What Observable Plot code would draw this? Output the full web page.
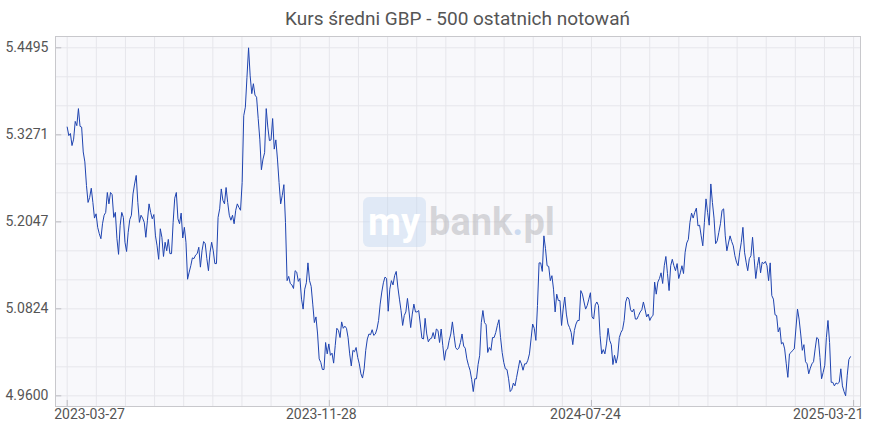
<!DOCTYPE html>
<html>
<head>
<meta charset="utf-8">
<script src="https://cdn.jsdelivr.net/npm/d3@7"></script>
<script src="https://cdn.jsdelivr.net/npm/@observablehq/plot@0.6"></script>
<style>
  html, body { margin: 0; padding: 0; background: #fff; }
  #wrap { position: relative; width: 870px; height: 430px; overflow: hidden; font-family: Roboto, sans-serif; }
  #title { position: absolute; left: 55px; width: 805px; top: 7px; text-align: center; font-size: 19px; color: #555; line-height: 24px; }
  #wm { position: absolute; left: 363px; top: 197px; height: 50px; display: flex; align-items: flex-start; pointer-events: none; font-family: Roboto, sans-serif; font-weight: 700; font-size: 38px; line-height: 50px; }
  #wm .box { background: rgba(196, 214, 240, 0.45); border-radius: 6px; color: #fff; padding: 0 6px 0 5px; height: 50px; }
  #wm .gray { color: rgba(170, 170, 175, 0.45); padding-left: 3px; }
  #wm .dot { color: rgba(160, 190, 230, 0.5); }
</style>
</head>
<body>
<div id="wrap">
  <div id="chart"></div>
  <div id="title">Kurs średni GBP - 500 ostatnich notowań</div>
  <div id="wm"><span class="box">my</span><span class="gray">bank<span class="dot">.</span>pl</span></div>
</div>
<script>
const values = [
5.338,5.326,5.329,5.312,5.321,5.346,5.340,5.364,5.339,5.338,
5.303,5.289,5.256,5.232,5.239,5.252,5.232,5.210,5.216,5.197,
5.188,5.181,5.202,5.214,5.218,5.246,5.230,5.246,5.243,5.211,
5.218,5.181,5.159,5.200,5.218,5.211,5.176,5.163,5.190,5.208,
5.214,5.244,5.258,5.270,5.232,5.204,5.214,5.210,5.204,5.183,
5.207,5.230,5.218,5.209,5.215,5.185,5.171,5.152,
5.195,5.183,5.156,5.176,5.164,5.180,5.160,5.160,5.204,5.238,
5.246,5.209,5.202,5.217,5.182,5.197,5.176,5.124,5.134,5.143,
5.154,5.153,5.158,5.160,5.169,5.141,5.164,5.177,5.174,5.153,
5.136,5.162,5.176,5.164,5.146,5.146,5.211,5.223,5.251,5.235,
5.230,5.253,5.232,5.214,5.207,5.214,5.202,5.221,5.230,5.225,
5.221,5.260,5.354,5.366,5.408,5.4495,5.410,5.385,5.399,5.383,
5.380,5.350,5.321,
5.278,5.293,5.302,5.364,5.338,5.319,5.320,5.350,5.307,5.320,
5.293,5.260,5.230,5.242,5.257,5.204,5.122,5.128,5.118,5.116,
5.111,5.136,5.134,5.121,5.125,5.096,5.082,5.110,5.119,5.147,
5.122,5.114,5.089,5.063,5.071,5.047,5.012,5.007,4.997,4.997,
5.035,5.019,5.033,5.017,5.020,5.006,5.031,5.055,5.052,5.042,
5.064,5.055,5.058,5.055,5.042,5.019,5.002,5.024,5.022,5.028,
5.014,5.005,
4.991,4.985,4.998,5.024,5.040,5.047,5.046,5.053,5.045,5.047,
5.054,5.066,5.089,5.106,5.119,5.127,5.125,5.079,5.110,5.122,
5.116,5.129,5.135,5.113,5.096,5.080,5.059,5.073,5.078,5.097,
5.078,5.056,5.075,5.089,5.078,5.078,5.080,5.061,5.041,5.040,
5.069,5.047,5.036,5.040,5.041,5.049,5.040,5.054,5.052,5.035,
5.054,5.031,5.010,5.024,5.026,5.038,5.047,5.064,5.045,5.028,
5.025,
5.027,5.035,5.047,5.030,5.027,5.012,5.003,4.996,4.983,4.966,
4.984,4.984,5.004,5.017,5.063,5.080,5.063,5.060,5.021,5.028,
5.024,5.042,5.042,5.049,5.059,5.067,5.042,5.021,5.007,4.998,
4.997,4.984,4.966,4.969,4.978,4.974,4.986,4.998,5.010,5.005,
4.996,5.005,5.005,5.010,5.019,5.040,5.061,5.055,5.038,5.087,
5.147,5.147,5.135,5.185,5.167,5.143,5.142,5.122,5.129,5.110,
5.078,5.103,
5.094,5.094,5.059,5.082,5.099,5.075,5.061,5.056,5.049,5.032,
5.052,5.061,5.066,5.066,5.108,5.103,5.092,5.082,5.087,5.096,
5.105,5.071,5.068,5.088,5.092,5.087,5.045,5.019,5.025,5.019,
5.033,5.055,5.038,5.032,5.004,5.017,5.006,5.016,5.042,5.049,
5.053,5.066,5.092,5.099,5.096,5.081,5.078,5.082,5.068,5.068,
5.073,5.078,5.081,5.092,5.082,5.071,5.075,5.066,5.071,5.073,
5.120,5.103,5.120,5.125,5.133,5.118,5.143,5.156,5.132,5.108,
5.143,5.152,5.143,5.136,5.146,5.125,5.133,5.143,5.132,5.162,
5.175,5.180,5.204,5.217,5.210,5.218,5.224,5.199,5.200,
5.185,5.171,5.204,5.237,5.218,5.200,5.258,5.232,5.210,
5.174,5.178,5.190,5.202,5.221,5.223,5.185,5.164,
5.175,5.185,5.177,5.171,5.157,5.148,5.143,5.162,5.176,
5.197,5.162,5.148,5.136,5.153,5.157,5.183,5.153,5.125,5.143,
5.155,5.133,5.148,
5.146,5.149,5.143,5.122,5.147,5.101,5.096,5.074,5.073,5.050,
5.056,5.033,5.035,5.026,5.005,4.986,5.019,5.021,5.024,5.026,
5.054,5.082,5.068,5.047,5.024,5.032,5.008,5.005,4.991,4.999,
5.005,5.008,5.026,5.042,5.040,5.014,4.984,4.993,5.003,5.042,
5.066,5.035,4.979,4.979,4.974,4.978,4.977,4.979,4.998,4.974,
4.966,4.960,4.989,5.011,5.015
];
const xTickDays = [0, 167, 334, 501];
const xTickLabels = ["2023-03-27", "2023-11-28", "2024-07-24", "2025-03-21"];
const yTicks = [4.9600, 5.0824, 5.2047, 5.3271, 5.4495];

const nSessions = 500;
const data = values.map((v, i) => ({day: i * (nSessions - 1) / (values.length - 1), rate: v}));
const xTicks = xTickDays.map((d, i) => ({day: d, label: xTickLabels[i]}));

const yMin = 4.945, yMax = 5.4654;
const xMin = -7.45, xMax = 505.4;
const yGrid = d3.range(13).map(k => yTicks[0] + k * (yTicks[4] - yTicks[0]) / 12);
const xGrid = d3.range(28).map(k => k * xTickDays[3] / 27);

const gridColor = "#e6e6eb";
const textColor = "#555";

const chart = Plot.plot({
  width: 870,
  height: 430,
  marginTop: 36,
  marginBottom: 24,
  marginLeft: 55,
  marginRight: 10,
  x: {domain: [xMin, xMax], axis: null},
  y: {domain: [yMin, yMax], axis: null},
  style: {fontFamily: "Roboto, sans-serif", fontSize: "14px", color: textColor, background: "transparent"},
  marks: [
    Plot.frame({fill: "#f8f8fb", stroke: null}),
    Plot.ruleY(yGrid, {stroke: gridColor}),
    Plot.ruleX(xGrid, {stroke: gridColor}),
    Plot.ruleX(xTickDays, {y1: yMin, y2: yMin + 0.0085, stroke: "#bdbdc2"}),
    Plot.ruleY(yTicks, {x1: xMin, x2: xMin + 4, stroke: "#bdbdc2"}),
    Plot.line(data, {x: "day", y: "rate", stroke: "#1f44b0", strokeWidth: 1}),
    Plot.frame({stroke: "#c8c8cc"}),
    Plot.axisY(yTicks, {label: null, tickSize: 0, tickPadding: 7, tickFormat: d => d.toFixed(4), fontSize: 14, fill: textColor}),
    Plot.text(xTicks.slice(0, 1), {x: "day", text: "label", frameAnchor: "bottom", dy: 12, dx: -13, textAnchor: "start", fontSize: 14, fill: textColor}),
    Plot.text(xTicks.slice(1, 2), {x: "day", text: "label", frameAnchor: "bottom", dy: 12, dx: -8, textAnchor: "middle", fontSize: 14, fill: textColor}),
    Plot.text(xTicks.slice(2, 3), {x: "day", text: "label", frameAnchor: "bottom", dy: 12, dx: -6, textAnchor: "middle", fontSize: 14, fill: textColor}),
    Plot.text(xTicks.slice(3, 4), {x: "day", text: "label", frameAnchor: "bottom", dy: 12, dx: 10, textAnchor: "end", fontSize: 14, fill: textColor})
  ]
});
document.getElementById("chart").appendChild(chart);
</script>
</body>
</html>
